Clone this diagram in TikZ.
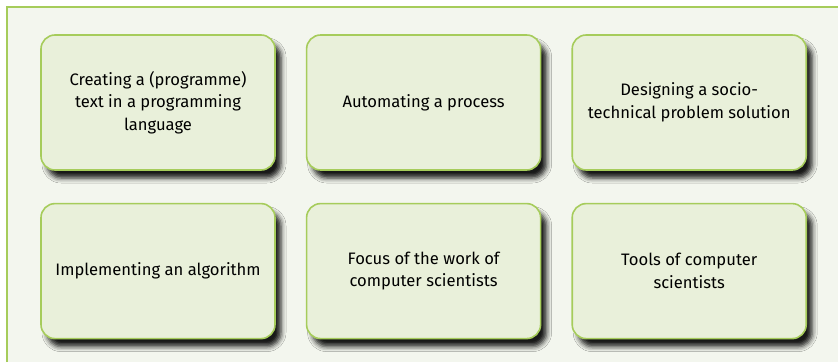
\documentclass[tikz,border=0pt]{standalone}
\usepackage{fontspec}
\setmainfont{Fira Sans}
\usetikzlibrary{positioning, shadows.blur}
\definecolor{gb}{HTML}{A6CC5B}
\definecolor{gf}{HTML}{E9F0DA}
\definecolor{gbg}{HTML}{F3F6EE}

\begin{document}
\begin{tikzpicture}[x=1pt, y=1pt,
		task/.style={draw=gb, line width=1.6pt, fill=gf, rounded corners=14pt,
			minimum width=234pt, minimum height=135pt, align=center,
			font=\fontsize{16.6}{22.5}\selectfont,
			blur shadow={shadow xshift=6pt, shadow yshift=-8pt, shadow blur radius=5pt, shadow opacity=90}}]
		\useasboundingbox (0,0) rectangle (838,-362);
		\fill[gbg] (7,-7) rectangle (838,-362);
		\draw[gb, line width=2pt] (7,-362) -- (7,-7) -- (838,-7);
		
		% upper row
		\node[task] (create) at (158,-102.5) {Creating a (programme)\\text in a programming\\language};
		\node[task, right=30pt of create] (auto) {Automating a process};
		\node[task, right=30pt of auto] (design) {Designing a socio-\\technical problem solution};
		
		% lower row
		\node[task, below=32pt of create] (impl) {Implementing an algorithm};
		\node[task, right=30pt of impl] (focus) {Focus of the work of\\computer scientists};
		\node[task, right=30pt of focus] (tools) {Tools of computer\\scientists};
	
	\end{tikzpicture}
\end{document}
